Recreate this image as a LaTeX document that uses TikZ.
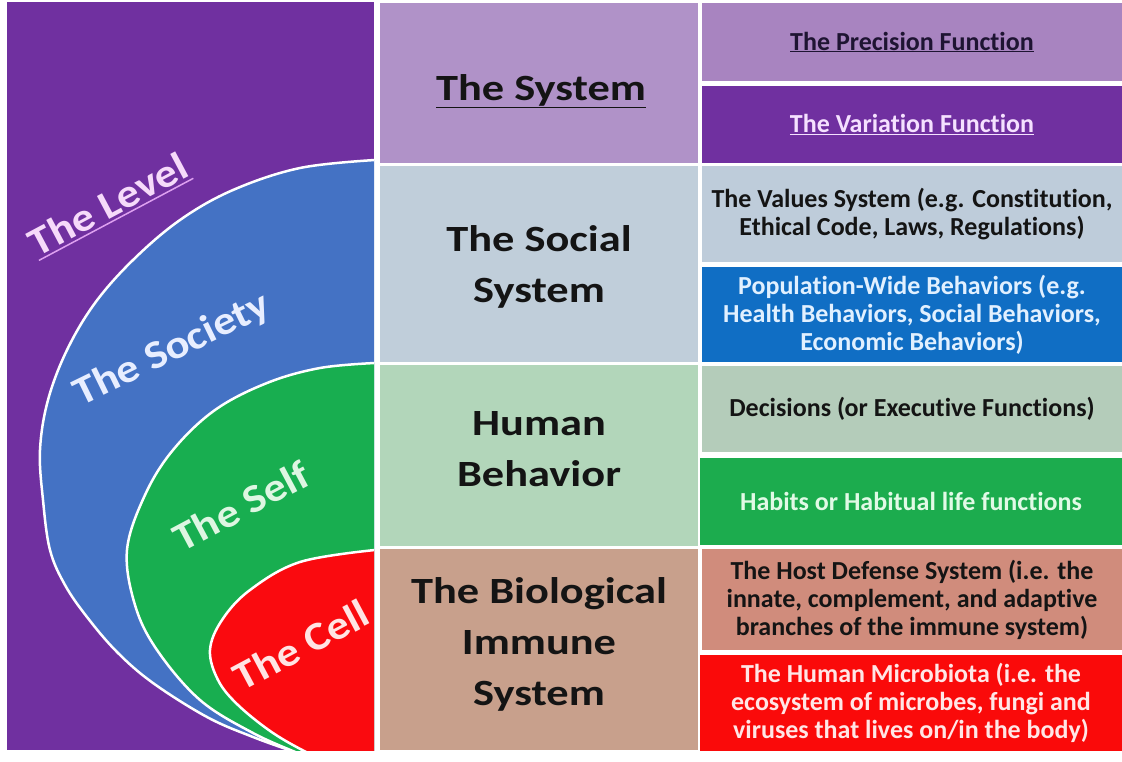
\documentclass[tikz,border=0pt]{standalone}
\usepackage{fontspec}
\setmainfont{Carlito}[Ligatures=NoCommon]
\newfontfamily\midfont{Carlito}[FakeStretch=1.2, Ligatures=NoCommon]
\newfontfamily\lvlfont{Carlito}[FakeStretch=1.12, Ligatures=NoCommon]
\definecolor{purpleC}{RGB}{112,48,160}
\definecolor{blueC}{RGB}{68,114,196}
\definecolor{greenC}{RGB}{24,174,80}
\definecolor{redC}{RGB}{250,10,15}
\definecolor{sysC}{RGB}{176,146,200}
\definecolor{socC}{RGB}{192,206,218}
\definecolor{humC}{RGB}{178,214,186}
\definecolor{bioC}{RGB}{200,160,140}
\definecolor{precC}{RGB}{168,132,192}
\definecolor{varC}{RGB}{112,48,160}
\definecolor{valC}{RGB}{190,204,218}
\definecolor{popC}{RGB}{16,110,196}
\definecolor{decC}{RGB}{180,204,186}
\definecolor{habC}{RGB}{28,172,78}
\definecolor{hostC}{RGB}{208,140,124}
\definecolor{micC}{RGB}{250,10,10}
\definecolor{txt}{RGB}{20,20,20}
\definecolor{precT}{RGB}{30,20,50}
\definecolor{varT}{RGB}{245,225,255}
\definecolor{popT}{RGB}{225,240,255}
\definecolor{habT}{RGB}{225,250,230}
\definecolor{micT}{RGB}{255,230,230}
\definecolor{levelT}{RGB}{246,218,250}
\definecolor{levelU}{RGB}{222,160,240}
\definecolor{socT}{RGB}{232,238,255}
\definecolor{selfT}{RGB}{222,246,226}
\definecolor{cellT}{RGB}{255,228,228}
\begin{document}
\begin{tikzpicture}[x=1pt,y=-1pt,
  cell/.style={anchor=north west, inner sep=0pt, outer sep=0pt, align=center},
  big/.style={font=\midfont\fontsize{37}{51}\selectfont\bfseries, text=txt, align=center, inner sep=0pt},
  small/.style={font=\fontsize{26}{28}\selectfont\bfseries},
  lvl/.style={font=\lvlfont\fontsize{40}{44}\selectfont\bfseries, inner xsep=0pt, inner ysep=3pt},
  blob/.style={draw=white, line width=2.5pt}]
\useasboundingbox[fill=white] (0,0) rectangle (1122,762);
% left panel
\node[cell, fill=purpleC, minimum width=367pt, minimum height=748pt] (panel) at (7,2) {};
\begin{scope}
\clip (panel.north west) rectangle (panel.south east);
\draw[blob, fill=blueC] plot[smooth, tension=0.6] coordinates {(375,160) (300,168) (233,190) (180,220) (133,260) (95,303) (67,350) (48,400) (40,450) (43,500) (50,550) (65,585) (87,617) (117,652) (153,683) (207,717) (253,737) (300,754) (320,762)} -- (400,780) -- (400,160) -- cycle;
\draw[blob, fill=greenC] plot[smooth, tension=0.6] coordinates {(375,363) (320,368) (267,383) (215,410) (173,450) (145,495) (127,550) (135,605) (157,650) (200,700) (253,733) (300,754) (320,762)} -- (400,780) -- (400,363) -- cycle;
\draw[blob, fill=redC] plot[smooth, tension=0.6] coordinates {(375,550) (300,562) (250,590) (222,620) (210,650) (218,680) (238,705) (273,733) (310,754) (330,762)} -- (400,780) -- (400,550) -- cycle;
\end{scope}
\node[lvl, text=levelT, rotate=28] (level) at (108,204) {The Level};
\draw[levelU, line width=1.5pt] (level.south west) -- (level.south east);
\node[lvl, text=socT, rotate=26] (society) at (172,350) {The Society};
\node[lvl, text=selfT, rotate=28] (self) at (241,506) {The Self};
\node[lvl, text=cellT, rotate=28] (cellL) at (301,645) {The Cell};
% middle column
\node[cell, fill=sysC, minimum width=318pt, minimum height=160pt] (sys) at (380,3) {};
\node[big] (sysT) at ([xshift=2pt,yshift=-8pt]sys.center) {\underline{The System}};
\node[cell, fill=socC, minimum width=318pt, minimum height=196pt] (soc) at (380,166) {};
\node[big] (socT) at ([yshift=-3pt]soc.center) {The Social\\System};
\node[cell, fill=humC, minimum width=318pt, minimum height=181pt] (hum) at (380,365) {};
\node[big] (humT) at ([yshift=6pt]hum.center) {Human\\Behavior};
\node[cell, fill=bioC, minimum width=318pt, minimum height=201pt] (bio) at (380,549) {};
\node[big] (bioT) at ([yshift=5pt]bio.center) {The Biological\\Immune\\System};
% right column
\node[cell, small, text=precT, fill=precC, minimum width=420pt, minimum height=78pt] (prec) at (702,3) {\underline{The Precision Function}};
\node[cell, small, text=varT, fill=varC, minimum width=420pt, minimum height=77pt] (var) at (702,86) {\underline{The Variation Function}};
\node[cell, small, text=txt, fill=valC, minimum width=420pt, minimum height=96pt] (val) at (702,166) {The Values System (e.g. Constitution,\\Ethical Code, Laws, Regulations)};
\node[cell, small, text=popT, fill=popC, minimum width=420pt, minimum height=95pt] (pop) at (702,267) {Population-Wide Behaviors (e.g.\\Health Behaviors, Social Behaviors,\\Economic Behaviors)};
\node[cell, small, text=txt, fill=decC, minimum width=420pt, minimum height=86pt] (dec) at (702,366) {Decisions (or Executive Functions)};
\node[cell, small, text=habT, fill=habC, minimum width=422pt, minimum height=87pt] (hab) at (700,458) {Habits or Habitual life functions};
\node[cell, small, text=txt, fill=hostC, minimum width=420pt, minimum height=101pt] (host) at (702,549) {The Host Defense System (i.e. the\\innate, complement, and adaptive\\branches of the immune system)};
\node[cell, small, text=micT, fill=micC, minimum width=422pt, minimum height=96pt] (mic) at (700,655) {The Human Microbiota (i.e. the\\ecosystem of microbes, fungi and\\viruses that lives on/in the body)};
\end{tikzpicture}
\end{document}
